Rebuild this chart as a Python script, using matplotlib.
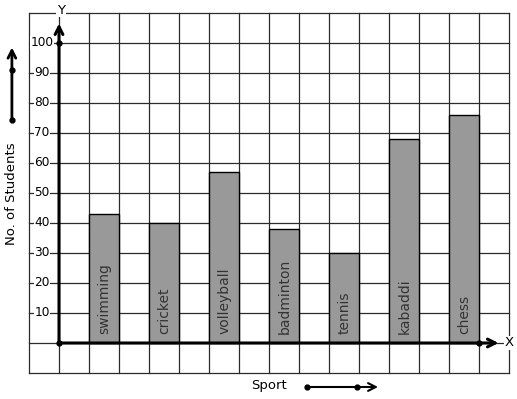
import matplotlib
matplotlib.use("Agg")
import matplotlib.pyplot as plt

sports = ["swimming", "cricket", "volleyball", "badminton", "tennis", "kabaddi", "chess"]
students = [43, 40, 57, 38, 30, 68, 76]
y_ticks = [10, 20, 30, 40, 50, 60, 70, 80, 90, 100]

W, H = 517, 399
fig = plt.figure(figsize=(W / 100, H / 100), dpi=100)
ax = fig.add_axes([0, 0, 1, 1])
# data coords: x in grid cells (origin at pixel 59), y in students (3 px per unit, origin at pixel 343)
ax.set_xlim(-59 / 30, (W - 59) / 30)
ax.set_ylim((343 - H) / 3, 343 / 3)
ax.axis("off")

grid_c = "#2b2b2b"
# grid
for cx in range(-1, 16):
    ax.plot([cx, cx], [-10, 110], color=grid_c, lw=0.9, zorder=1)
for v in range(-10, 111, 10):
    ax.plot([-1, 15], [v, v], color=grid_c, lw=0.9, zorder=1)

# bars
xs = [1.5 + 2 * i for i in range(len(sports))]
ax.bar(xs, students, width=1.0, color="#999999", edgecolor="black", linewidth=1.0, zorder=2)
for x, name in zip(xs, sports):
    ax.text(x + 0.02, 3.0, name, rotation=90, ha="center", va="bottom",
            fontsize=10, color="#333333", zorder=3)

arrow = "->,head_length=0.55,head_width=0.28"
# axes with arrows
ax.annotate("", xy=(0, 106.5), xytext=(0, 0),
            arrowprops=dict(arrowstyle=arrow, lw=2.2, color="black", shrinkA=0, shrinkB=0), zorder=4)
ax.annotate("", xy=(14.65, 0), xytext=(0, 0),
            arrowprops=dict(arrowstyle=arrow, lw=2.2, color="black", shrinkA=0, shrinkB=0), zorder=4)
ax.plot([0, 0, 14], [0, 100, 0], "o", color="black", ms=3.5, zorder=5)

ax.text(15.0, 0, "X", ha="center", va="center", fontsize=9.5,
        bbox=dict(facecolor="white", edgecolor="none", pad=0.5), zorder=5)
ax.text(0.07, 111, "Y", ha="center", va="center", fontsize=9.5,
        bbox=dict(facecolor="white", edgecolor="none", pad=0.5), zorder=5)

for v in y_ticks:
    ax.text(-0.57, v, str(v), ha="center", va="center", fontsize=8.7,
            bbox=dict(facecolor="white", edgecolor="none", pad=0.2), zorder=5)

# y title and arrow
ax.text(-1.57, (343 - 194) / 3, "No. of Students", rotation=90, ha="center", va="center", fontsize=9.5)
ax.annotate("", xy=(-1.57, 98.5), xytext=(-1.57, (343 - 120) / 3),
            arrowprops=dict(arrowstyle=arrow, lw=2.0, color="black", shrinkA=0, shrinkB=0))
ax.plot([-1.57, -1.57], [(343 - 120) / 3, (343 - 70) / 3], "o", color="black", ms=3.5)

# x title and arrow
ax.text((269 - 59) / 30, (343 - 385) / 3, "Sport", ha="center", va="center", fontsize=9.5)
ay = (343 - 387) / 3
ax.annotate("", xy=((378 - 59) / 30, ay), xytext=((307 - 59) / 30, ay),
            arrowprops=dict(arrowstyle=arrow, lw=1.5, color="black", shrinkA=0, shrinkB=0))
ax.plot([(307 - 59) / 30, (357 - 59) / 30], [ay, ay], "o", color="black", ms=3.5)

fig.savefig("out.png", dpi=100, facecolor="white")
